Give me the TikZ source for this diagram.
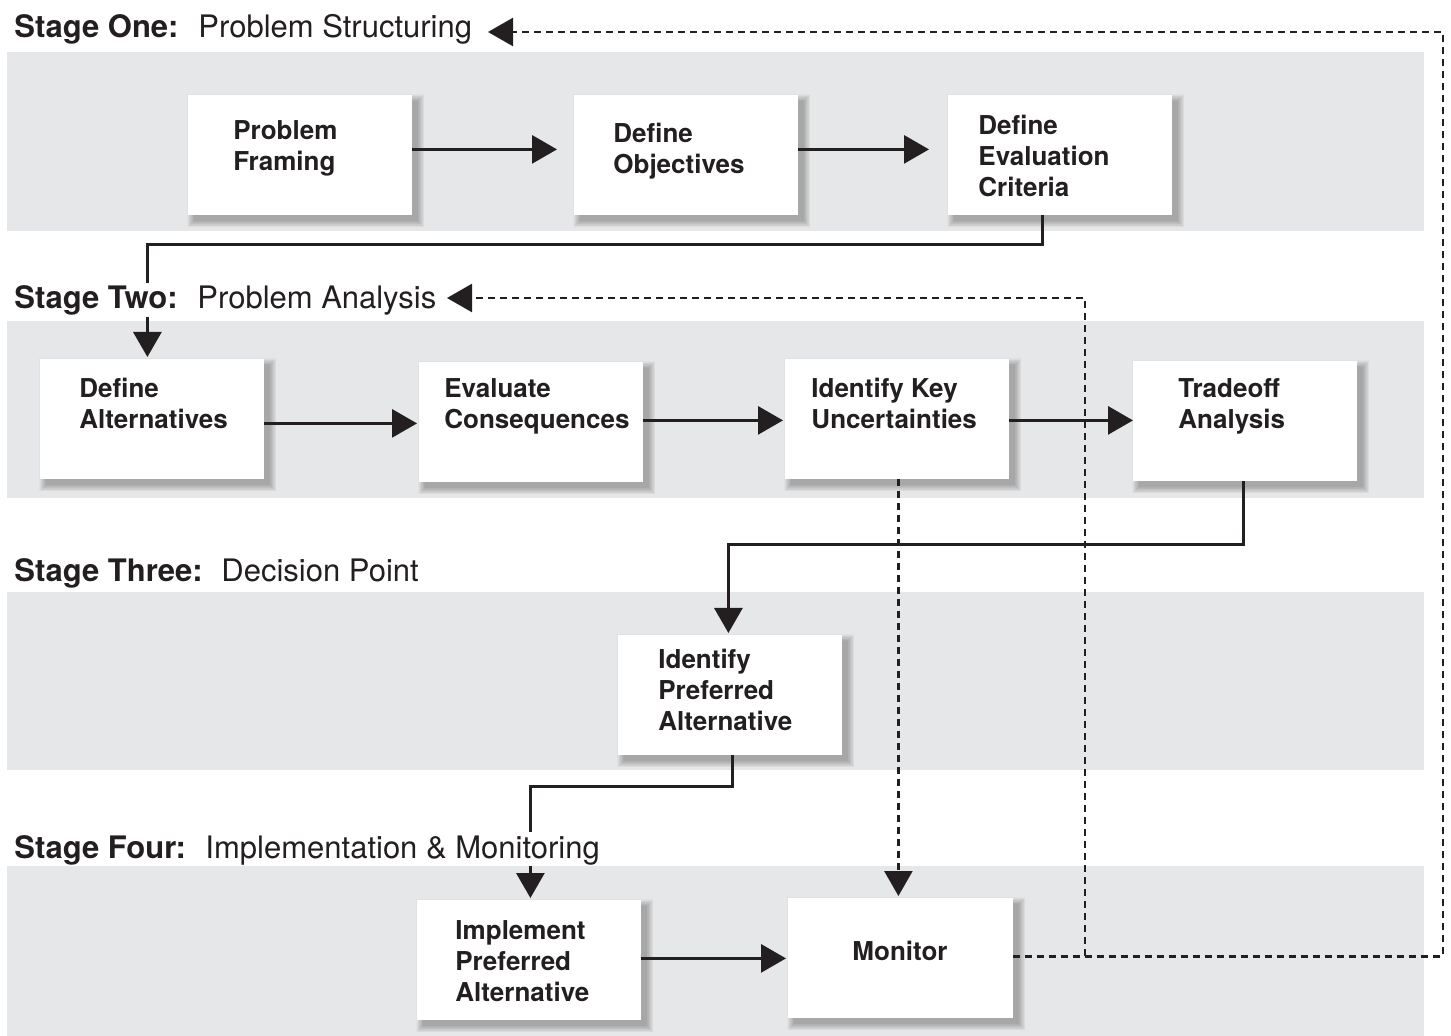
\documentclass[tikz,border=0pt]{standalone}
\usepackage{fontspec}
\setmainfont{TeX Gyre Heros}
\usetikzlibrary{arrows.meta}
\definecolor{band}{HTML}{E6E7E8}
\definecolor{ink}{HTML}{231F20}

\begin{document}
\begin{tikzpicture}[x=0.5pt,y=-0.5pt,
  box/.style={draw=none,inner sep=0pt,anchor=north west,
    minimum width=111.5pt,minimum height=59.5pt},
  softshadow/.style={fill=black,opacity=0.022},
  boxtext/.style={text=ink,inner sep=0pt,anchor=north west,align=left,
    font=\bfseries\fontsize{13}{15.5}\selectfont},
  stagehead/.style={text=ink,fill=white,inner sep=0pt,anchor=base west,
    text height=13pt,text depth=4pt,font=\bfseries\fontsize{15.5}{18}\selectfont},
  stagename/.style={text=ink,fill=white,inner sep=0pt,anchor=base west,
    text height=13pt,text depth=4pt,font=\fontsize{15.5}{18}\selectfont},
  flow/.style={draw=ink,line width=1.5pt,-{Triangle[length=12.5pt,width=14pt]}},
  feedback/.style={draw=ink,line width=1.25pt,dash pattern=on 3.5pt off 2.5pt,
    -{Triangle[length=12.5pt,width=14pt]}}]

\useasboundingbox (0,0) rectangle (1451,1036);

% stage bands
\fill[band] (7,52) rectangle (1424,231);
\fill[band] (7,321) rectangle (1424,498);
\fill[band] (7,592) rectangle (1424,770);
\fill[band] (7,866) rectangle (1424,1036);

% boxes (outlines only; faces are painted after the shadows)
\node[box] (pf)   at (188,95)  {};
\node[box] (do)   at (574,95)  {};
\node[box] (dec)  at (948,95)  {};
\node[box] (da)   at (40,359)  {};
\node[box] (ec)   at (419,362) {};
\node[box] (iku)  at (785,359) {};
\node[box] (ta)   at (1133,361) {};
\node[box] (ipa)  at (618,635) {};
\node[box] (impl) at (417,900) {};
\node[box,minimum width=112pt] (mon) at (788,898) {};

% soft drop shadows, stacked so they darken towards the middle
\foreach \b in {pf,do,dec,da,ec,iku,ta,ipa,impl,mon}{
  \foreach \r in {0,0.3,...,3.6}{
    \fill[softshadow]
      ([xshift=3pt-\r pt,yshift=-3pt+\r pt]\b.north west) rectangle
      ([xshift=3pt+\r pt,yshift=-3pt-\r pt]\b.south east);
  }
}

% white box faces
\foreach \b in {pf,do,dec,da,ec,iku,ta,ipa,impl,mon}{
  \fill[white] (\b.north west) rectangle (\b.south east);
}

% box labels
\node[boxtext] (pf-t)   at (233,120) {Problem\\Framing};
\node[boxtext] (do-t)   at (613,123) {Define\\Objectives};
\node[boxtext] (dec-t)  at (978,115) {Define\\Evaluation\\Criteria};
\node[boxtext] (da-t)   at (79,378)  {Define\\Alternatives};
\node[boxtext] (ec-t)   at (444,378) {Evaluate\\Consequences};
\node[boxtext] (iku-t)  at (811,378) {Identify Key\\Uncertainties};
\node[boxtext] (ta-t)   at (1178,378) {Tradeoff\\Analysis};
\node[boxtext] (ipa-t)  at (658,649) {Identify\\Preferred\\Alternative};
\node[boxtext] (impl-t) at (455,920) {Implement\\Preferred\\Alternative};
\node[boxtext,anchor=center] (mon-t) at (900,951) {Monitor};

% main flow
\draw[flow] ([yshift=2.75pt]pf.east) -- ([xshift=-8.5pt,yshift=2.75pt]do.west);
\draw[flow] ([yshift=2.75pt]do.east) -- ([xshift=-9.5pt,yshift=2.75pt]dec.west);
\draw[flow] ([xshift=-8.75pt]dec.south) -- ++(0,30) -| ([xshift=-2.25pt,yshift=1pt]da.north);
\draw[flow] ([yshift=-2.25pt]da.east) -- ([xshift=-1pt,yshift=-0.75pt]ec.west);
\draw[flow] ([yshift=0.75pt]ec.east) -- ([xshift=-1pt,yshift=-0.75pt]iku.west);
\draw[flow] ([yshift=-0.75pt]iku.east) -- ([yshift=0.25pt]ta.west);
\draw[flow] ([xshift=-0.75pt]ta.south) -- ++(0,64) -| ([xshift=-0.75pt,yshift=1pt]ipa.north);
\draw[flow] ([xshift=1.25pt]ipa.south) -- ++(0,32) -| ([xshift=0.75pt,yshift=1pt]impl.north);
\draw[flow] ([yshift=0.75pt]impl.east) -- ([xshift=-1pt,yshift=-0.25pt]mon.west);

% monitoring feedback
\coordinate (tip1) at (488,32);
\coordinate (tip2) at (447,298);
\coordinate (jn) at (1085,956);
\draw[feedback] ([xshift=0.75pt]iku.south) -- ([xshift=-1pt,yshift=1pt]mon.north);
\draw[feedback] ([yshift=0.75pt]mon.east) -- ++(430,0) |- (tip1);
\draw[feedback] (jn) |- (tip2);

% stage headings
\node[stagehead] (s1) at (14,38)  {Stage One:};
\node[stagename] (s1n) at (198,38) {Problem Structuring};
\node[stagehead] (s2) at (14,309) {Stage Two:};
\node[stagename] (s2n) at (197,309) {Problem Analysis};
\node[stagehead] (s3) at (14,582) {Stage Three:};
\node[stagename] (s3n) at (221,582) {Decision Point};
\node[stagehead] (s4) at (14,858) {Stage Four:};
\node[stagename] (s4n) at (205,858) {Implementation \& Monitoring};

\end{tikzpicture}
\end{document}
